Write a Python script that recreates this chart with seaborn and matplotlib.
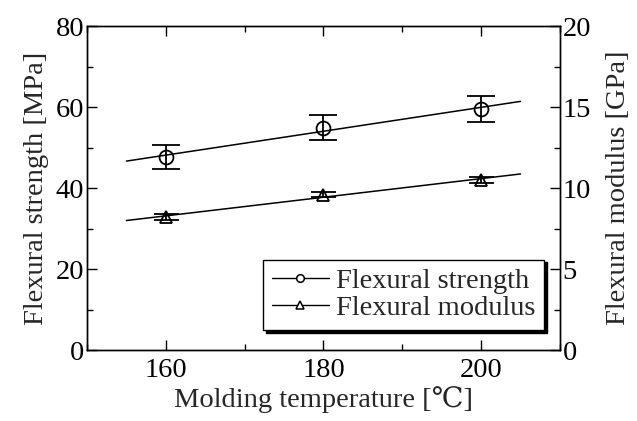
import numpy as np
import pandas as pd
import seaborn as sns
import matplotlib
matplotlib.use("Agg")
import matplotlib.pyplot as plt
from matplotlib.lines import Line2D
from matplotlib.ticker import MultipleLocator

# Measured values
temperature = [160, 180, 200]                 # molding temperature [°C]
strength = [47.7, 54.9, 59.5]                 # flexural strength [MPa]
strength_err = [3.0, 3.1, 3.3]
modulus = [8.2, 9.6, 10.5]                    # flexural modulus [GPa]
modulus_err = [0.2, 0.15, 0.2]
fit_range = [155, 205]

sns.set_style("ticks")
serif = ["Liberation Serif", "DejaVu Serif"]
plt.rcParams["font.family"] = serif
plt.rcParams["xtick.direction"] = "in"
plt.rcParams["ytick.direction"] = "in"

FS = 20.5
fig = plt.figure(figsize=(6.37, 4.21), dpi=100)
ax = fig.add_axes([0.1366, 0.1686, 0.7424, 0.7694])
ax2 = ax.twinx()

df = pd.DataFrame({"T": temperature, "S": strength, "M": modulus})

# Linear fits
xs = np.array(fit_range, dtype=float)
ps = np.polyfit(df["T"], df["S"], 1)
pm = np.polyfit(df["T"], df["M"], 1)
sns.lineplot(x=xs, y=np.polyval(ps, xs), ax=ax, color="black", lw=1.1)
sns.lineplot(x=xs, y=np.polyval(pm, xs), ax=ax2, color="black", lw=1.1)

# Data points with error bars (hollow markers)
ax.errorbar(df["T"], df["S"], yerr=strength_err, fmt="o", ms=10, mfc="none",
            mec="black", mew=1.3, ecolor="black", elinewidth=1.3, capsize=10,
            capthick=1.3, zorder=5)
ax2.errorbar(df["T"], df["M"], yerr=modulus_err, fmt="^", ms=9, mfc="none",
             mec="black", mew=1.3, ecolor="black", elinewidth=1.3, capsize=9,
             capthick=1.3, zorder=5)

ax.set_xlim(150, 210)
ax.set_ylim(0, 80)
ax2.set_ylim(0, 20)
ax.xaxis.set_major_locator(MultipleLocator(20))
ax.xaxis.set_minor_locator(MultipleLocator(10))
ax.yaxis.set_major_locator(MultipleLocator(20))
ax.yaxis.set_minor_locator(MultipleLocator(10))
ax2.yaxis.set_major_locator(MultipleLocator(5))
ax2.yaxis.set_minor_locator(MultipleLocator(2.5))

ax.tick_params(axis="x", which="both", top=True, bottom=True, direction="in",
               labelsize=FS, colors="black", pad=6)
ax.tick_params(axis="y", which="both", left=True, right=False, direction="in",
               labelsize=FS, colors="black", pad=2)
ax2.tick_params(axis="y", which="both", right=True, direction="in",
                labelsize=FS, colors="black", pad=2)
for a in (ax, ax2):
    a.tick_params(which="major", length=7, width=1)
    a.tick_params(which="minor", length=4, width=1)
    for s in a.spines.values():
        s.set_visible(True)
        s.set_color("black")
        s.set_linewidth(1.0)

ax.set_xlabel("Molding temperature [℃]", fontsize=FS, labelpad=2)
ax.set_ylabel("Flexural strength [MPa]", fontsize=FS, labelpad=5)
ax2.set_ylabel("Flexural modulus [GPa]", fontsize=FS, labelpad=11)

handles = [
    Line2D([], [], color="black", lw=1.0, marker="o", ms=5.5, mfc="white",
           mec="black", mew=1.1),
    Line2D([], [], color="black", lw=1.0, marker="^", ms=6, mfc="white",
           mec="black", mew=1.1),
]
leg = ax2.legend(handles, ["Flexural strength", "Flexural modulus"],
                 loc="lower right", bbox_to_anchor=(0.966, 0.062),
                 fontsize=FS, frameon=True, fancybox=False, numpoints=1,
                 handlelength=2.0, handletextpad=0.25, borderpad=0.3,
                 labelspacing=0.05, borderaxespad=0.0,
                 shadow={"color": "black", "alpha": 1.0})
leg.get_frame().set_edgecolor("black")
leg.get_frame().set_linewidth(1.0)

fig.savefig("out.png", dpi=100)
